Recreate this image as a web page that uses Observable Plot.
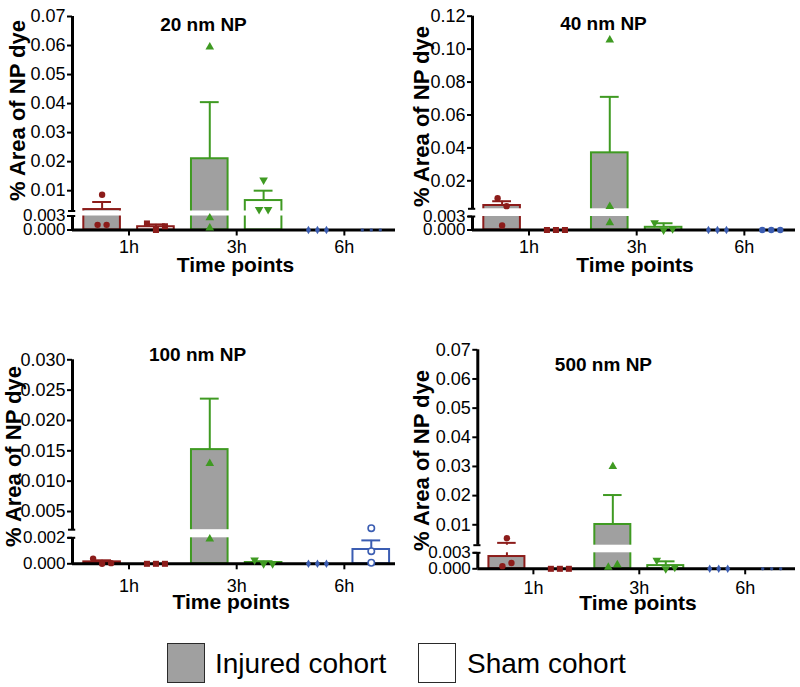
<!DOCTYPE html>
<html><head><meta charset="utf-8">
<script src="https://cdn.jsdelivr.net/npm/d3@7"></script>
<script src="https://cdn.jsdelivr.net/npm/@observablehq/plot@0.6"></script>
<style>
html,body{margin:0;padding:0;background:#fff;}
#root{position:relative;width:800px;height:687px;overflow:hidden;font-family:"Liberation Sans", Arial, sans-serif;background:#fff;}
.panel{position:absolute;}
.legend-box{position:absolute;width:36px;height:38px;border:1.5px solid #2a2a2a;}
.legend-text{position:absolute;font-size:28px;line-height:28px;color:#000;white-space:nowrap;}
</style></head><body><div id="root"></div>
<script>
// ---------- data ----------
const panelTitles = ["20 nm NP", "40 nm NP", "100 nm NP", "500 nm NP"];
const timePoints = ["1h", "3h", "6h"];
const cohorts = ["Injured cohort", "Sham cohort"];
const yAxisTitle = "% Area of NP dye";
const xAxisTitle = "Time points";

// bar order: 1h injured, 1h sham, 3h injured, 3h sham, 6h injured, 6h sham
const mean20 = [0.0035, 0.0007, 0.0210, 0.0066, 0, 0];
const sem20  = [0.0026, 0.0005, 0.0195, 0.0034, 0, 0];
const points20 = [[0.0086, 0.0011, 0.0011], [0.0014, 0.0000, 0.0008], [0.0595, 0.0026, 0.00045], [0.0035, 0.0137, 0.0035], [0, 0, 0], [0, 0, 0]];

const mean40 = [0.0050, 0, 0.0370, 0.0006, 0, 0];
const sem40  = [0.0026, 0, 0.0340, 0.0009, 0, 0];
const points40 = [[0.0094, 0.0010, 0.0046], [0, 0, 0], [0.1055, 0.0044, 0.0016], [0.0016, 0.0000, 0.0003], [0, 0, 0], [0, 0, 0]];

const mean100 = [0.00015, 0, 0.0152, 0.0001, 0, 0.0011];
const sem100  = [0.00012, 0, 0.0084, 0.0001, 0, 0.0007];
const points100 = [[0.0004, 0.0000, 0.00005], [0, 0, 0], [0.0308, 0.0129, 0.0019], [0.0003, 0, 0], [0, 0, 0], [0.00225, 0.00097, 0.00008]];

const mean500 = [0.0023, 0, 0.0101, 0.0006, 0, 0];
const sem500  = [0.0015, 0, 0.0101, 0.0008, 0, 0];
const points500 = [[0.0005, 0.0054, 0.0011], [0, 0, 0], [0.0003, 0.0300, 0.00075], [0.0016, 0.0000, 0.0003], [0, 0, 0], [0, 0, 0]];

// broken y-axis: lower segment [0, break], upper segment [break, max]
const axisBreaks = [0.003, 0.003, 0.002, 0.003];
const axisMax = [0.07, 0.12, 0.030, 0.07];
const upperTicks20 = [0.01, 0.02, 0.03, 0.04, 0.05, 0.06, 0.07];
const lowerTicks20 = [0, 0.003];
const upperTicks40 = [0.02, 0.04, 0.06, 0.08, 0.10, 0.12];
const lowerTicks40 = [0, 0.003];
const upperTicks100 = [0.005, 0.010, 0.015, 0.020, 0.025, 0.030];
const lowerTicks100 = [0, 0.002];
const upperTicks500 = [0.01, 0.02, 0.03, 0.04, 0.05, 0.06, 0.07];
const lowerTicks500 = [0, 0.003];

// ---------- styles / layout ----------
const red = "#8c1c1a", green = "#3f9a22", blue = "#3b5db2", grey = "#a0a0a0";
const timeColors = [red, green, blue];
const font = "Liberation Sans, Arial, sans-serif";

const triangleDown = {
  draw(context, size) {
    const y = -Math.sqrt(size / (Math.sqrt(3) * 3));
    context.moveTo(0, -y * 2);
    context.lineTo(-Math.sqrt(3) * y, y);
    context.lineTo(Math.sqrt(3) * y, y);
    context.closePath();
  }
};
const baseMarkers = [
  {symbol: "circle", fill: red, r: 3.2},
  {symbol: "square", fill: red, r: 3.4},
  {symbol: "triangle", fill: green, r: 3.2},
  {symbol: triangleDown, fill: green, r: 3.2},
  {symbol: "diamond", fill: blue, r: 2.6}
];
const shamSixMarkers = [
  {symbol: "circle", fill: blue, r: 1.7, fillOpacity: 0.8},
  {symbol: "circle", fill: blue, r: 3.2},
  {symbol: "circle", fill: "white", stroke: blue, strokeWidth: 1.6, r: 3.2},
  {symbol: "circle", fill: blue, r: 1.7, fillOpacity: 0.8}
];

const layouts = [
  {left: 0,   top: 0,   h: 285, ax: 72, axEnd: 395, y0: 229.5, yLow: 215.5, yUp: 210.5, yTop: 16,
   titleDx: -30.5, titleDy: 8, ylabX: 17, ylabY: 110, xlabDx: 1.5, xlabDy: 35, tickPad: 4, digits: 2},
  {left: 400, top: 0,   h: 285, ax: 72, axEnd: 395, y0: 229.5, yLow: 216, yUp: 208.3, yTop: 15.7,
   titleDx: -30.5, titleDy: 7.5, ylabX: 21, ylabY: 116, xlabDx: 1, xlabDy: 35, tickPad: 4, digits: 2},
  {left: 0,   top: 300, h: 320, ax: 72, axEnd: 395, y0: 263.3, yLow: 237.3, yUp: 229.2, yTop: 59.3,
   titleDx: -36.5, titleDy: -4.6, ylabX: 13, ylabY: 156, xlabDx: -2.7, xlabDy: 38, tickPad: 9, digits: 3},
  {left: 400, top: 300, h: 320, ax: 77.3, axEnd: 395, y0: 268.3, yLow: 252.3, yUp: 244.7, yTop: 49.3,
   titleDx: -33.2, titleDy: 14.7, ylabX: 21, ylabY: 160, xlabDx: 1.3, xlabDy: 34.5, tickPad: 6, digits: 2}
];

const means = [mean20, mean40, mean100, mean500];
const sems = [sem20, sem40, sem100, sem500];
const pointSets = [points20, points40, points100, points500];
const upperTicks = [upperTicks20, upperTicks40, upperTicks100, upperTicks500];
const lowerTicks = [lowerTicks20, lowerTicks40, lowerTicks100, lowerTicks500];

const X0 = -0.55, X1 = 5.45;     // x domain; bar i sits at x = i
const halfBar = 0.34, halfCap = 0.175;

function dodgeOffsets(values, yPix, thresh = 9.5, step = 9) {
  const n = values.length, ys = values.map(yPix);
  const parent = d3.range(n);
  const find = i => parent[i] === i ? i : (parent[i] = find(parent[i]));
  for (let i = 0; i < n; i++) for (let j = i + 1; j < n; j++)
    if (Math.abs(ys[i] - ys[j]) < thresh) parent[find(i)] = find(j);
  const groups = d3.group(d3.range(n), i => find(i));
  const off = new Array(n).fill(0);
  for (const members of groups.values()) {
    const m = members.length;
    members.forEach((idx, k) => off[idx] = (k - (m - 1) / 2) * step);
  }
  return off;
}

function makePanel(p) {
  const L = layouts[p];
  const brk = axisBreaks[p], brkHi = brk * (1 + 1e-7), max = axisMax[p];
  const yDomain = [0, brk, brkHi, max];
  const yRange = [L.y0, L.yLow, L.yUp, L.yTop];
  const yPix = d3.scaleLinear().domain(yDomain).range(yRange);
  const pxPerUnit = (L.axEnd - L.ax) / (X1 - X0);

  const bars = d3.range(6).map(i => ({i, t: Math.floor(i / 2), sham: i % 2 === 1, mean: means[p][i], sem: sems[p][i]}));
  const errBars = bars.filter(d => d.sem > 0);

  const dotMarks = d3.range(6).map(i => {
    const vals = pointSets[p][i];
    const offs = dodgeOffsets(vals, yPix);
    const pts = vals.map((v, k) => ({x: i + offs[k] / pxPerUnit, y: v})).filter(d => d.y <= max);
    const st = i < 5 ? baseMarkers[i] : shamSixMarkers[p];
    return Plot.dot(pts, {x: "x", y: "y", stroke: "none", ...st});
  });

  const fmtUp = d3.format("." + L.digits + "f"), fmtLow = d3.format(".3f");
  const yFrameCenter = (L.yTop + L.y0) / 2;

  const svg = Plot.plot({
    width: 400, height: L.h,
    marginLeft: L.ax, marginRight: 400 - L.axEnd, marginTop: L.yTop, marginBottom: L.h - L.y0,
    x: {domain: [X0, X1]},
    y: {type: "linear", domain: yDomain, range: yRange},
    color: {type: "identity"},
    style: {fontFamily: font, background: "white", overflow: "visible", color: "black"},
    marks: [
      // SEM whiskers and caps
      Plot.ruleX(errBars, {x: "i", y1: "mean", y2: d => d.mean + d.sem, stroke: d => timeColors[d.t], strokeWidth: 2}),
      Plot.ruleY(errBars, {y: d => d.mean + d.sem, x1: d => d.i - halfCap, x2: d => d.i + halfCap, stroke: d => timeColors[d.t], strokeWidth: 2}),
      // bars
      Plot.rect(bars, {x1: d => d.i - halfBar, x2: d => d.i + halfBar, y1: d => 0, y2: "mean",
        fill: d => d.sham ? "white" : grey, stroke: d => timeColors[d.t], strokeWidth: 2}),
      // axis break gap
      Plot.rect([brk], {x1: () => X0, x2: () => X1, y1: () => brk, y2: () => brkHi, fill: "white"}),
      // axes lines
      Plot.ruleY([0], {stroke: "black", strokeWidth: 3}),
      Plot.ruleX([X0], {y1: () => 0, y2: () => brk, stroke: "black", strokeWidth: 3}),
      Plot.ruleX([X0], {y1: () => brkHi, y2: () => max, stroke: "black", strokeWidth: 3}),
      Plot.ruleY([brk, brkHi], {x1: () => X0 - 0.075, x2: () => X0 + 0.06, stroke: "black", strokeWidth: 2}),
      Plot.axisY({ticks: upperTicks[p], tickFormat: fmtUp, tickSize: 5, tickPadding: 2, fontSize: 18, strokeWidth: 2, label: null}),
      Plot.axisY({ticks: lowerTicks[p], tickFormat: fmtLow, tickSize: 5, tickPadding: 2, fontSize: 17, strokeWidth: 2, label: null}),
      Plot.axisX({ticks: [0.5, 2.5, 4.5], tickFormat: d => timePoints[Math.round((d - 0.5) / 2)], tickSize: 6, tickPadding: L.tickPad, fontSize: 18, strokeWidth: 2, label: null}),
      // data points
      ...dotMarks,
      // titles
      Plot.text([panelTitles[p]], {frameAnchor: "top", textAnchor: "middle", lineAnchor: "middle", dx: L.titleDx, dy: L.titleDy, fontSize: 19, fontWeight: "bold"}),
      Plot.text([yAxisTitle], {frameAnchor: "left", textAnchor: "middle", lineAnchor: "middle", rotate: -90, dx: L.ylabX - L.ax, dy: L.ylabY - yFrameCenter, fontSize: 22, fontWeight: "bold"}),
      Plot.text([xAxisTitle], {frameAnchor: "bottom", textAnchor: "middle", lineAnchor: "middle", dx: L.xlabDx, dy: L.xlabDy, fontSize: 21, fontWeight: "bold"})
    ]
  });
  svg.classList.add("panel");
  svg.style.left = L.left + "px";
  svg.style.top = L.top + "px";
  svg.style.position = "absolute";
  return svg;
}

const root = document.getElementById("root");
for (let p = 0; p < 4; p++) root.appendChild(makePanel(p));

// legend
const legendItems = [
  {label: cohorts[0], fill: grey, boxLeft: 167, textLeft: 215},
  {label: cohorts[1], fill: "white", boxLeft: 418, textLeft: 467}
];
for (const it of legendItems) {
  const box = document.createElement("div");
  box.className = "legend-box";
  box.style.left = it.boxLeft + "px";
  box.style.top = "643px";
  box.style.background = it.fill;
  root.appendChild(box);
  const tx = document.createElement("div");
  tx.className = "legend-text";
  tx.style.left = it.textLeft + "px";
  tx.style.top = "650px";
  tx.textContent = it.label;
  root.appendChild(tx);
}
</script>
</body></html>
